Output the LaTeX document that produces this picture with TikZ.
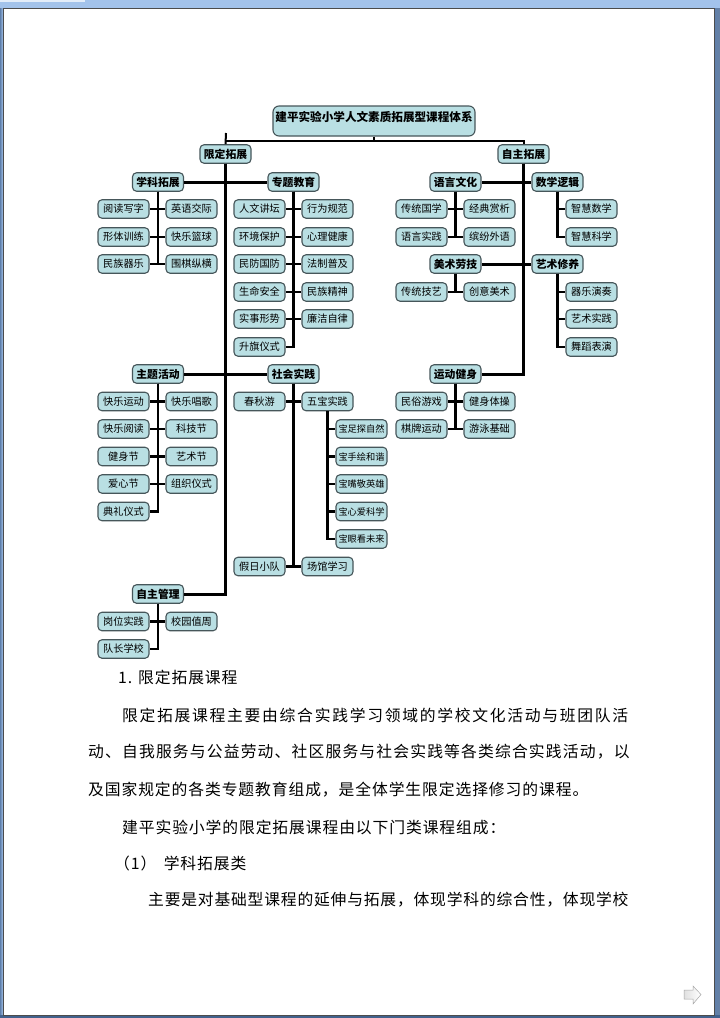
\documentclass[tikz,border=0pt]{standalone}
\usepackage{fontspec}
\setmainfont{Noto Sans CJK SC}
\usetikzlibrary{positioning}
\definecolor{boxfill}{HTML}{B9DFE3}
\definecolor{boxline}{HTML}{46565A}
\definecolor{framelight}{HTML}{A3C3EB}
\definecolor{frameside}{HTML}{5F7FAB}
\definecolor{framedark}{HTML}{41618C}
\newcommand{\jline}[2]{\addfontfeature{LetterSpace=#1}#2}
\tikzset{
  topbox/.style={draw=boxline, fill=boxfill, line width=1.1pt, rounded corners=4pt, minimum width=51pt, minimum height=18.5pt, inner sep=0pt, font=\fontsize{10.8}{12}\selectfont\bfseries},
  leaf/.style={topbox, font=\fontsize{10.2}{12}\selectfont},
  bao/.style={leaf, font=\fontsize{9.2}{11}\selectfont},
  para/.style={anchor=west, inner sep=0pt, font=\fontsize{15.8}{18}\selectfont},
  trunk/.style={line width=3pt},
  branch/.style={line width=2.4pt}
}
\begin{document}
\begin{tikzpicture}[x=1pt,y=-1pt]
  \useasboundingbox (0,0) rectangle (720,1018);
  % window round the page
  \fill[framelight] (0,0) rectangle (720,1018);
  \fill[white!70!framelight] (0,0) rectangle (85,2);
  \shade[left color=frameside, right color=framelight] (0,8) rectangle (3,1018);
  \shade[left color=frameside, right color=framedark!80] (714,8) rectangle (720,1018);
  \fill[framedark] (0,1015) rectangle (720,1018);
  \draw[fill=white, draw=black!70, line width=0.8pt] (3,8) rectangle (714,1015);

  \node[topbox, minimum width=202pt, minimum height=30pt, rounded corners=6pt, font=\fontsize{11.6}{13}\selectfont\bfseries, text depth=9pt] (root) at (374,121) {建平实验小学人文素质拓展型课程体系};
  \node[topbox] (xd) at (225.5,154) {限定拓展};
  \node[topbox] (zz) at (523.5,154) {自主拓展};
  \coordinate (rootj) at (374,140.5);
  \coordinate (xdj) at (226,133);

  \foreach \nm/\x/\y/\txt in {xk/158/182/学科拓展, zt/293.5/182/专题教育, zh/158/374/主题活动, sh/293.5/374/社会实践, gl/158/594/自主管理,
      yy/455.5/182/语言文化, sx/557.5/182/数学逻辑, ms/455.5/264/美术劳技, ys/557.5/264/艺术修养, yd/455.5/374/运动健身}
    \node[topbox] (\nm) at (\x,\y) {\txt};

  % left column of each group
  \foreach \nm/\x/\y/\txt in {a1/123.5/209/阅读写字, a2/123.5/237/形体训练, a3/123.5/264/民族器乐,
      b1/259.5/209/人文讲坛, b2/259.5/237/环境保护, b3/259.5/264/民防国防, b4/259.5/292/生命安全, b5/259.5/319/实事形势, b6/259.5/347/升旗仪式,
      c1/123.5/401.5/快乐运动, c2/123.5/429/快乐阅读, c3/123.5/456.5/健身节, c4/123.5/484/爱心节, c5/123.5/511.5/典礼仪式,
      d1/259.5/401.5/春秋游, d2/259.5/566.5/假日小队,
      e1/123.5/621.5/岗位实践, e2/123.5/649/队长学校,
      f1/421.5/209/传统国学, f2/421.5/237/语言实践, g1/421.5/292/传统技艺,
      h1/421.5/401.5/民俗游戏, h2/421.5/429/棋牌运动}
    \node[leaf] (\nm) at (\x,\y) {\txt};
  % right column of each group
  \foreach \nm/\x/\y/\txt in {p1/191.5/209/英语交际, p2/191.5/237/快乐篮球, p3/191.5/264/围棋纵横,
      q1/327.5/209/行为规范, q2/327.5/237/心理健康, q3/327.5/264/法制普及, q4/327.5/292/民族精神, q5/327.5/319/廉洁自律,
      r1/191.5/401.5/快乐唱歌, r2/191.5/429/科技节, r3/191.5/456.5/艺术节, r4/191.5/484/组织仪式,
      s1/327.5/401.5/五宝实践, s2/327.5/566.5/场馆学习,
      t1/191.5/621.5/校园值周,
      u1/489.5/209/经典赏析, u2/489.5/237/缤纷外语, v1/489.5/292/创意美术,
      w1/489.5/401.5/健身体操, w2/489.5/429/游泳基础,
      x1/591.5/209/智慧数学, x2/591.5/237/智慧科学, x3/591.5/292/器乐演奏, x4/591.5/319/艺术实践, x5/591.5/347/舞蹈表演}
    \node[leaf] (\nm) at (\x,\y) {\txt};
  \foreach \nm/\y/\txt in {k1/429/宝足探自然, k2/456.5/宝手绘和谐, k3/484/宝嘴敬英雄, k4/511.5/宝心爱科学, k5/539/宝眼看未来}
    \node[bao] (\nm) at (361.5,\y) {\txt};

  \draw[line width=2pt] (root.south) -- (rootj);
  \draw[line width=2pt] (xd.north) -- (xdj);
  \draw[line width=2pt] (rootj) -| (zz.north);
  \draw[line width=2pt] (rootj) -- (rootj -| xd.north);

  \foreach \up/\kid in {xd/xk, xd/zh, xd/gl, zz/yy, zz/ms, zz/yd}
    \draw[trunk] (\up.south) |- (\kid.east);
  \foreach \up/\kid in {xd/zt, xd/sh, zz/sx, zz/ys}
    \draw[trunk] (\up.south) |- (\kid.west);

  \foreach \up/\kid in {xk/a1, xk/a2, xk/a3, zt/b1, zt/b2, zt/b3, zt/b4, zt/b5, zt/b6, zh/c1, zh/c2, zh/c3, zh/c4, zh/c5,
      sh/d1, sh/d2, gl/e1, gl/e2, yy/f1, yy/f2, ms/g1, yd/h1, yd/h2}
    \draw[branch] (\up.south) |- (\kid.east);
  \foreach \up/\kid in {xk/p1, xk/p2, xk/p3, zt/q1, zt/q2, zt/q3, zt/q4, zt/q5, zh/r1, zh/r2, zh/r3, zh/r4,
      sh/s1, sh/s2, gl/t1, yy/u1, yy/u2, ms/v1, yd/w1, yd/w2, sx/x1, sx/x2, ys/x3, ys/x4, ys/x5,
      s1/k1, s1/k2, s1/k3, s1/k4, s1/k5}
    \draw[branch] (\up.south) |- (\kid.west);

  % text below the chart
  \node[para] (t1) at (118,677) {\jline{5.7}{1. 限定拓展课程}};
  \node[para] (t2) at (122,715) {\jline{10.8}{限定拓展课程主要由综合实践学习领域的学校文化活动与班团队活}};
  \node[para] (t3) at (88,752) {\jline{7.3}{动、自我服务与公益劳动、社区服务与社会实践等各类综合实践活动，以}};
  \node[para] (t4) at (88,790) {\jline{5.7}{及国家规定的各类专题教育组成，是全体学生限定选择修习的课程。}};
  \node[para] (t5) at (122,827) {\jline{5.7}{建平实验小学的限定拓展课程由以下门类课程组成：}};
  \node[para] (t6) at (114,863) {\jline{5.7}{（1） \hspace{3pt}学科拓展类}};
  \node[para] (t7) at (148,900) {\jline{5}{主要是对基础型课程的延伸与拓展，体现学科的综合性，体现学校}};

  % page turn arrow
  \shade[left color=black!12, right color=white, draw=black!35, line width=0.5pt]
    (684,990) -- (693,990) -- (693,986) -- (701,994.5) -- (693,1004) -- (693,999) -- (684,999) -- cycle;
\end{tikzpicture}
\end{document}
